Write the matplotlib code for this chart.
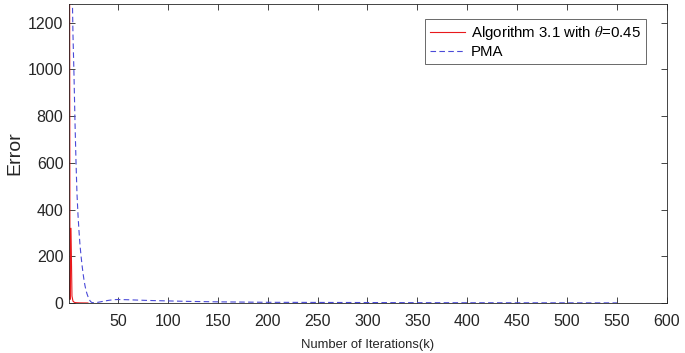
import matplotlib
matplotlib.use("Agg")
import matplotlib.pyplot as plt

plt.rcParams['font.family'] = ['Liberation Sans', 'DejaVu Sans']
plt.rcParams['mathtext.fontset'] = 'stix'

# Algorithm 3.1 with theta = 0.45
alg_k = [1, 2, 3, 4, 5, 6, 7, 8, 10, 12, 15, 20]
alg_err = [4000, 15, 320, 30, 8, 4, 2, 1.5, 1, 0.6, 0.4, 0.2]

# PMA
pma_k = [1, 2, 3, 4, 5, 6, 7, 8, 9, 10, 11, 12, 13, 14, 15, 16, 17, 18, 19,
         20, 21, 22, 23, 24, 26, 30, 35, 40, 45, 50, 60, 80, 100, 120, 150,
         200, 250, 300, 350, 400, 450, 500, 550]
pma_err = [6000, 3500, 2000, 1400, 1150, 980, 780, 610, 470, 380, 310, 250,
           205, 165, 130, 100, 75, 55, 40, 28, 18, 10, 5, 2, 1, 3, 7, 11, 14,
           15, 14, 11, 9, 7, 5, 3, 2.5, 2, 1.5, 1.2, 1, 0.8, 0.6]

fig = plt.figure(figsize=(6.85, 3.53), dpi=100)
ax = fig.add_axes([0.1007, 0.1416, 0.8730, 0.8470])

ax.plot(alg_k, alg_err, color='#e8191c', linewidth=0.8,
        label=r'Algorithm 3.1 with $\theta$=0.45')
ax.plot(pma_k, pma_err, color='#4a4ad8', linewidth=0.8, linestyle=(0, (5, 3)),
        label='PMA')

ax.set_xlim(1, 600)
ax.set_ylim(0, 1280)
ax.set_xticks(range(50, 601, 50))
ax.set_yticks(range(0, 1201, 200))
ax.tick_params(direction='in', top=True, right=True, length=4, width=0.6,
               labelsize=11.5, colors='#262626')
ax.tick_params(axis='x', pad=8)
ax.tick_params(axis='y', pad=4)
for s in ax.spines.values():
    s.set_color('#262626')
    s.set_linewidth(0.6)

ax.set_xlabel('Number of Iterations(k)', fontsize=9.4, color='#262626', labelpad=7)
ax.set_ylabel('Error', fontsize=14, color='#262626', labelpad=3)

leg = ax.legend(loc='upper right', fontsize=10.8, frameon=True, fancybox=False,
                edgecolor='#262626', handlelength=2.3, borderpad=0.35,
                labelspacing=0.2, handletextpad=0.4,
                bbox_to_anchor=(0.977, 0.975))
leg.get_frame().set_linewidth(0.6)

fig.savefig('out.png', dpi=100, facecolor='white')
plt.close(fig)
